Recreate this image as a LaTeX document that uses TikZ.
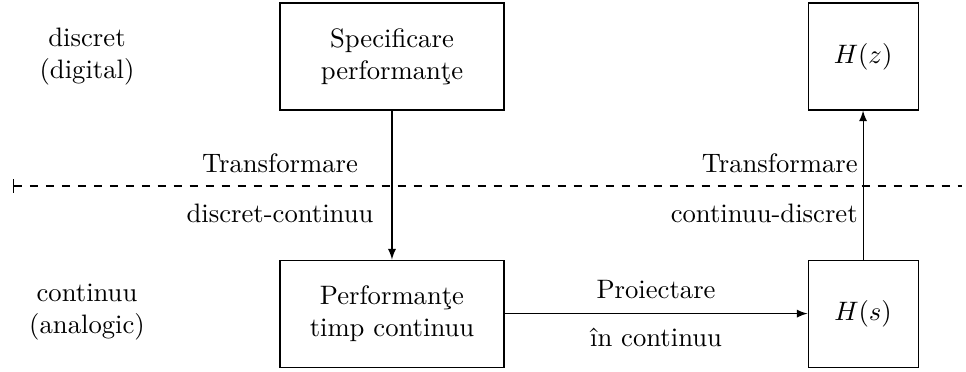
\documentclass[tikz,border=0pt]{standalone}
\usepackage{fontspec}
\usepackage{tikz}
\usetikzlibrary{positioning,arrows}

\begin{document}
\begin{tikzpicture}[block/.style={rectangle,draw,align=center,minimum width=2.953cm,minimum height=1.411cm},
                    tf/.style={rectangle,draw,minimum width=1.45cm,minimum height=1.411cm},
                    lbl/.style={align=center}]
        \useasboundingbox (0,0) rectangle (12.734,4.891);

        \node[block] (spec) at (5.167,4.146) {Specificare\\performanţe};
        \node[block] (perf) [below=1.964cm of spec] {Performanţe\\timp continuu};
        \node[tf] (hz) at (11.377,4.146) {$H(z)$};
        \node[tf] (hs) [below=1.964cm of hz] {$H(s)$};

        \node[lbl] (disc) at (1.147,4.146) {discret\\(digital)};
        \node[lbl] (cont) at (1.147,0.771) {continuu\\(analogic)};

        % granita dintre cele doua domenii
        \coordinate (l) at (0.171,2.439);
        \coordinate (r) at (12.681,2.439);
        \draw[dashed,|-] (l)--(r);

        \node (t1) at (3.691,2.742) {Transformare};
        \node (t2) at (3.691,2.083) {discret-continuu};
        \node[anchor=east] (t3) at (11.43,2.742) {Transformare};
        \node[anchor=east] (t4) at (11.43,2.083) {continuu-discret};

        \draw[-latex] (spec)--(perf);
        \draw[-latex] (perf)--node[above=2pt] (pr) {Proiectare} node[below=2pt] (ic) {în continuu} (hs);
        \draw[-latex] (hs)--(hz);
    \end{tikzpicture}
\end{document}
